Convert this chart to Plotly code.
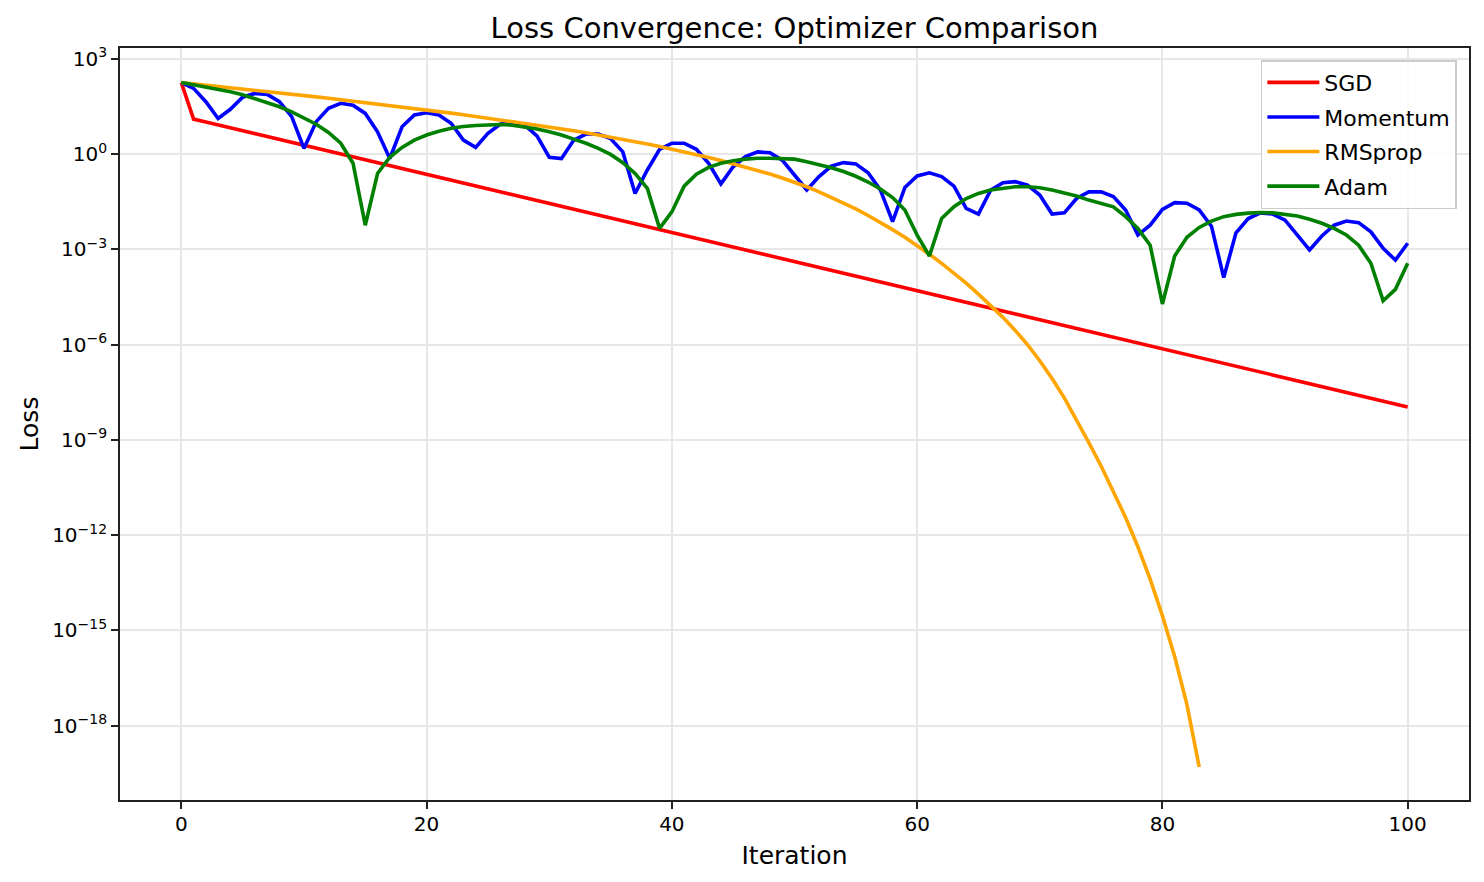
import plotly.graph_objects as go

iterations = list(range(0, 101))

sgd_loss = [178, 12.6, 10.2, 8.26, 6.68, 5.42, 4.39, 3.55, 2.88, 2.33,
            1.89, 1.53, 1.24, 1.00, 0.81, 0.656, 0.531, 0.431, 0.349, 0.282,
            0.229, 0.185, 0.150, 0.122, 0.0985, 0.0798, 0.0646, 0.0523, 0.0424, 0.0343,
            0.0278, 0.0225, 0.0182, 0.0148, 0.0120, 0.00969, 0.00785, 0.00636, 0.00515, 0.00417,
            0.00338, 0.00274, 0.00222, 0.00180, 0.00145, 0.00118, 9.55e-4, 7.74e-4, 6.27e-4, 5.08e-4,
            4.11e-4, 3.33e-4, 2.70e-4, 2.18e-4, 1.77e-4, 1.43e-4, 1.16e-4, 9.40e-5, 7.62e-5, 6.17e-5,
            5.00e-5, 4.05e-5, 3.28e-5, 2.65e-5, 2.15e-5, 1.74e-5, 1.41e-5, 1.14e-5, 9.26e-6, 7.50e-6,
            6.08e-6, 4.92e-6, 3.99e-6, 3.23e-6, 2.62e-6, 2.12e-6, 1.72e-6, 1.39e-6, 1.13e-6, 9.13e-7,
            7.39e-7, 5.99e-7, 4.85e-7, 3.93e-7, 3.18e-7, 2.58e-7, 2.09e-7, 1.69e-7, 1.37e-7, 1.11e-7,
            8.98e-8, 7.27e-8, 5.89e-8, 4.77e-8, 3.87e-8, 3.13e-8, 2.54e-8, 2.05e-8, 1.66e-8, 1.35e-8,
            1.09e-8]

momentum_loss = [178, 117, 44.7, 13.2, 25.7, 61.7, 81.3, 75.9, 44.7, 15.1,
                 1.51, 10.5, 27.5, 39.8, 34.7, 19.1, 5.01, 0.724, 7.24, 17.0,
                 20.0, 17.0, 9.33, 2.75, 1.62, 4.47, 8.71, 10.0, 8.13, 3.72,
                 0.794, 0.724, 2.75, 4.27, 4.27, 3.09, 1.17, 0.0575, 0.316, 1.41,
                 2.19, 2.19, 1.41, 0.513, 0.115, 0.398, 0.832, 1.17, 1.10, 0.646,
                 0.219, 0.0741, 0.195, 0.417, 0.537, 0.490, 0.257, 0.0741, 0.00741, 0.0891,
                 0.204, 0.257, 0.195, 0.0977, 0.0195, 0.0129, 0.0741, 0.126, 0.135, 0.105,
                 0.0513, 0.0129, 0.0141, 0.0398, 0.0646, 0.0646, 0.0457, 0.0174, 0.00282, 0.00575,
                 0.0182, 0.0295, 0.0282, 0.0174, 0.00537, 1.29e-4, 0.00331, 0.00933, 0.0141, 0.0129,
                 0.00832, 0.00282, 9.55e-4, 0.00263, 0.00575, 0.00776, 0.00692, 0.00355, 0.00107, 4.57e-4,
                 0.00155]

rmsprop_loss = [178, 163, 149, 136, 124, 113, 103, 93.8, 85.1, 77.3,
                70.0, 63.4, 57.3, 51.8, 46.7, 42.1, 37.8, 34.0, 30.5, 27.4,
                24.5, 21.9, 19.5, 17.4, 15.4, 13.6, 12.0, 10.6, 9.33, 8.18,
                7.16, 6.24, 5.41, 4.67, 4.01, 3.43, 2.92, 2.47, 2.08, 1.74,
                1.44, 1.19, 0.971, 0.785, 0.630, 0.500, 0.393, 0.305, 0.234, 0.177,
                0.132, 0.0935, 0.0647, 0.0438, 0.0289, 0.0187, 0.0116, 0.00710, 0.00418, 0.00240,
                0.00132, 7.0e-4, 3.6e-4, 1.8e-4, 8.6e-5, 3.9e-5, 1.7e-5, 7.2e-6, 2.8e-6, 9.9e-7,
                3.1e-7, 8.6e-8, 2.1e-8, 4.3e-9, 8.2e-10, 1.5e-10, 2.5e-11, 3.6e-12, 4.3e-13, 4.1e-14,
                2.9e-15, 1.5e-16, 4.6e-18, 5.0e-20]

adam_loss = [178, 151, 132, 112, 91.2, 74.1, 56.2, 42.7, 30.9, 21.4,
             14.1, 8.71, 4.79, 2.19, 0.513, 0.00575, 0.245, 0.794, 1.62, 2.75,
             3.98, 5.25, 6.46, 7.41, 7.94, 8.13, 8.51, 8.13, 7.24, 6.17,
             5.01, 3.98, 2.95, 2.19, 1.51, 0.977, 0.537, 0.245, 0.0832, 0.00457,
             0.0151, 0.0977, 0.234, 0.380, 0.513, 0.617, 0.692, 0.741, 0.741, 0.724,
             0.692, 0.575, 0.468, 0.372, 0.282, 0.200, 0.132, 0.0794, 0.0427, 0.0174,
             0.00282, 6.17e-4, 0.00933, 0.0219, 0.0398, 0.0575, 0.0741, 0.0851, 0.0933, 0.0933,
             0.0871, 0.0741, 0.0603, 0.0479, 0.0355, 0.0282, 0.0219, 0.0107, 0.00457, 0.00135,
             1.91e-5, 6.17e-4, 0.0024, 0.0049, 0.00776, 0.0107, 0.0126, 0.0138, 0.0145, 0.0141,
             0.0129, 0.0112, 0.00891, 0.00661, 0.00457, 0.00282, 0.00135, 3.63e-4, 2.4e-5, 5.5e-5,
             3.63e-4]

series_names = ["SGD", "Momentum", "RMSprop", "Adam"]
series_colors = ["#ff0000", "#0000ff", "#ffa500", "#008000"]
series_values = [sgd_loss, momentum_loss, rmsprop_loss, adam_loss]

x_ticks = [0, 20, 40, 60, 80, 100]
y_tick_values = [1e3, 1e0, 1e-3, 1e-6, 1e-9, 1e-12, 1e-15, 1e-18]
y_tick_labels = ["10<sup>3</sup>", "10<sup>0</sup>", "10<sup>\u22123</sup>", "10<sup>\u22126</sup>",
                 "10<sup>\u22129</sup>", "10<sup>\u221212</sup>", "10<sup>\u221215</sup>",
                 "10<sup>\u221218</sup>"]

FONT = "DejaVu Sans, Arial, sans-serif"

fig = go.Figure()
for name, color, vals in zip(series_names, series_colors, series_values):
    fig.add_trace(go.Scatter(
        x=iterations[:len(vals)], y=vals, mode="lines", name=name,
        line=dict(color=color, width=3.6), legendgroup=name,
    ))

fig.update_layout(
    width=1484, height=882,
    margin=dict(l=120, r=15, t=48, b=82),
    paper_bgcolor="white", plot_bgcolor="white",
    font=dict(family=FONT, color="black", size=20),
    title=dict(text="Loss Convergence: Optimizer Comparison", x=0.5, xref="paper",
               y=1 - 28 / 882, yanchor="middle", font=dict(size=29, family=FONT)),
    showlegend=True,
    legend=dict(x=0.991, y=0.984, xanchor="right", yanchor="top",
                bgcolor="rgba(255,255,255,0.85)", bordercolor="#cccccc", borderwidth=1.5,
                font=dict(size=22, family=FONT), tracegroupgap=3, itemwidth=52),
)

fig.update_xaxes(
    range=[-5, 105], tickvals=x_ticks, showgrid=True, gridcolor="#e7e7e7", gridwidth=1.6,
    showline=True, linecolor="#222222", linewidth=1.7, mirror=True,
    ticks="outside", ticklen=7, tickwidth=1.6, tickcolor="#222222", zeroline=False,
    title=dict(text="Iteration", font=dict(size=25, family=FONT), standoff=12),
    tickfont=dict(size=20), ticklabelstandoff=-2,
)
fig.update_yaxes(
    type="log", range=[-20.34, 3.34], tickvals=y_tick_values, ticktext=y_tick_labels,
    showgrid=True, gridcolor="#e7e7e7", gridwidth=1.6,
    showline=True, linecolor="#222222", linewidth=1.7, mirror=True,
    ticks="outside", ticklen=7, tickwidth=1.6, tickcolor="#222222", zeroline=False,
    title=dict(text="Loss", font=dict(size=25, family=FONT), standoff=6),
    tickfont=dict(size=20),
)

fig.write_html("out.html")
